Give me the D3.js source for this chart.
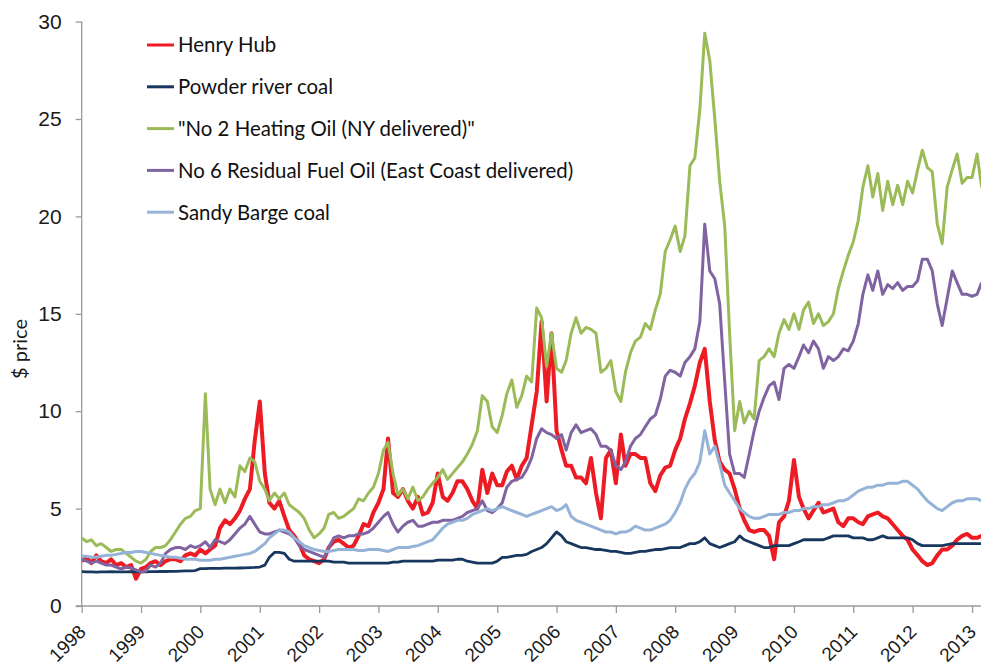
<!DOCTYPE html>
<html>
<head>
<meta charset="utf-8">
<script src="https://cdn.jsdelivr.net/npm/d3@7"></script>
<style>
  html, body { margin: 0; padding: 0; background: #fff; }
  svg { display: block; font-family: Lato, "Liberation Sans", sans-serif; }
  .axis path, .axis line { stroke: #9a9a9a; stroke-width: 1.3; }
  .axis text { fill: #1a1a1a; font-size: 21px; }
  .x.axis text { font-size: 19px; }
</style>
</head>
<body>
<div class="chart"></div>
<script>
// monthly prices, Jan 1998 .. Mar 2013
const henryHub = [
  2.3, 2.5, 2.2, 2.6, 2.3, 2.2, 2.4, 2.1, 2.2, 2.0, 2.1, 1.4,
  1.9, 2.0, 2.2, 2.3, 2.1, 2.3, 2.4, 2.4, 2.3, 2.6, 2.7, 2.6,
  2.9, 2.7, 2.9, 3.1, 4.0, 4.4, 4.2, 4.5, 4.9, 5.5, 6.0, 8.5,
  10.5, 6.8, 5.3, 5.0, 5.4, 4.6, 3.9, 3.6, 3.2, 2.6, 2.4, 2.3,
  2.2, 2.4, 3.0, 3.3, 3.4, 3.2, 3.0, 3.1, 3.6, 4.2, 4.1, 4.8,
  5.3, 6.0, 8.6, 5.8, 5.6, 6.0, 5.4, 5.0, 5.6, 4.7, 4.8, 5.3,
  6.8, 5.6, 5.4, 5.8, 6.4, 6.4, 6.0, 5.4, 5.0, 7.0, 5.8, 6.8,
  6.2, 6.2, 6.9, 7.2, 6.5, 7.2, 7.6, 9.3, 11.0, 14.6, 10.5, 14.0,
  9.0, 8.0, 7.2, 7.2, 6.6, 6.6, 6.3, 7.6, 5.8, 4.5, 7.6, 8.0,
  6.3, 8.8, 7.2, 7.8, 7.8, 7.6, 7.6, 6.3, 5.9, 6.7, 7.1, 7.2,
  8.0, 8.6, 9.6, 10.4, 11.3, 12.5, 13.2, 10.5, 8.5, 7.4, 7.0, 6.8,
  6.0, 5.0, 4.4, 3.9, 3.8, 3.9, 3.9, 3.6, 2.4, 4.3, 4.6, 5.4,
  7.5, 5.6, 5.0, 4.5, 4.9, 5.3, 4.8, 4.9, 5.0, 4.3, 4.1, 4.5,
  4.5, 4.3, 4.2, 4.6, 4.7, 4.8, 4.6, 4.5, 4.2, 3.9, 3.6, 3.4,
  2.9, 2.6, 2.3, 2.1, 2.2, 2.6, 2.9, 2.9, 3.1, 3.4, 3.6, 3.7,
  3.5, 3.5, 3.6
];

const powderRiver = [
  1.76, 1.75, 1.75, 1.74, 1.75, 1.75, 1.76, 1.75, 1.75, 1.75, 1.76, 1.75,
  1.75, 1.75, 1.76, 1.76, 1.77, 1.77, 1.78, 1.78, 1.79, 1.8, 1.8, 1.82,
  1.92, 1.92, 1.93, 1.93, 1.93, 1.94, 1.94, 1.94, 1.95, 1.96, 1.97, 1.98,
  2.0, 2.1, 2.5, 2.75, 2.75, 2.7, 2.4, 2.3, 2.3, 2.3, 2.3, 2.3,
  2.3, 2.3, 2.3, 2.25, 2.25, 2.25, 2.2, 2.2, 2.2, 2.2, 2.2, 2.2,
  2.2, 2.2, 2.2, 2.25, 2.25, 2.3, 2.3, 2.3, 2.3, 2.3, 2.3, 2.3,
  2.35, 2.35, 2.35, 2.35, 2.4, 2.4, 2.3, 2.25, 2.2, 2.2, 2.2, 2.2,
  2.3, 2.5, 2.5, 2.55, 2.6, 2.6, 2.65, 2.8, 2.9, 3.0, 3.2, 3.5,
  3.8, 3.6, 3.3, 3.2, 3.1, 3.0, 3.0, 2.95, 2.9, 2.9, 2.85, 2.8,
  2.8, 2.75, 2.7, 2.7, 2.75, 2.8, 2.8, 2.85, 2.9, 2.9, 2.95, 3.0,
  3.0, 3.0, 3.1, 3.2, 3.2, 3.3, 3.5, 3.2, 3.1, 3.0, 3.1, 3.2,
  3.3, 3.6, 3.4, 3.3, 3.2, 3.1, 3.0, 3.0, 3.1, 3.1, 3.1, 3.1,
  3.2, 3.3, 3.4, 3.4, 3.4, 3.4, 3.4, 3.5, 3.6, 3.6, 3.6, 3.6,
  3.5, 3.5, 3.5, 3.4, 3.4, 3.5, 3.6, 3.5, 3.5, 3.5, 3.5, 3.5,
  3.4, 3.2, 3.1, 3.1, 3.1, 3.1, 3.1, 3.15, 3.2, 3.2, 3.2, 3.2,
  3.2, 3.2, 3.2
];

const heatingOil = [
  3.5, 3.3, 3.4, 3.1, 3.2, 3.0, 2.8, 2.9, 2.9, 2.7, 2.5, 2.3,
  2.2, 2.4, 2.8, 3.0, 3.0, 3.1, 3.4, 3.8, 4.2, 4.5, 4.6, 4.9,
  5.0, 10.9, 6.0, 5.2, 6.0, 5.3, 6.0, 5.6, 7.2, 6.9, 7.6, 7.4,
  6.4, 6.0, 5.4, 5.8, 5.5, 5.8, 5.2, 5.0, 4.8, 4.5, 3.9, 3.5,
  3.7, 4.0, 4.7, 4.8, 4.5, 4.6, 4.8, 5.0, 5.5, 5.4, 5.8, 6.1,
  6.8, 8.0, 8.4, 6.8, 5.7, 6.0, 5.5, 6.1, 5.4, 5.6, 6.0, 6.3,
  6.6, 7.0, 6.5, 6.8, 7.1, 7.4, 7.8, 8.3, 9.0, 10.8, 10.5, 9.2,
  8.9, 9.8, 10.9, 11.6, 10.2, 10.8, 11.8, 11.5, 15.3, 14.8, 12.3, 14.0,
  12.2, 12.0, 12.6, 14.0, 14.8, 14.0, 14.3, 14.2, 14.0, 12.0, 12.2, 12.6,
  11.0, 10.5, 12.0, 13.0, 13.6, 13.8, 14.5, 14.2, 15.2, 16.0, 18.2, 18.8,
  19.5, 18.2, 19.0, 22.6, 23.0, 25.5, 29.4, 28.0, 25.0, 21.8, 19.5, 14.0,
  9.0, 10.5, 9.4, 10.0, 9.6, 12.6, 12.8, 13.2, 12.8, 14.0, 14.7, 14.2,
  15.0, 14.2, 15.2, 15.6, 14.5, 15.0, 14.4, 14.6, 15.0, 16.3, 17.2, 18.0,
  18.7, 19.8, 21.5, 22.6, 21.0, 22.2, 20.3, 21.8, 20.6, 21.6, 20.6, 21.8,
  21.2, 22.4, 23.4, 22.5, 22.3, 19.6, 18.6, 21.5, 22.4, 23.2, 21.7, 22.0,
  22.0, 23.2, 21.5
];

const residualOil = [
  2.4, 2.3, 2.2, 2.3, 2.2, 2.1, 2.1, 2.0, 1.9, 2.0, 1.95, 1.85,
  1.75, 1.8, 2.1, 2.0, 2.2, 2.7, 2.9, 3.0, 3.0, 2.9, 3.1, 3.0,
  3.1, 3.3, 3.0, 3.4, 3.3, 3.2, 3.4, 3.7, 4.0, 4.2, 4.6, 4.2,
  3.8, 3.7, 3.7, 3.8, 3.9, 3.8, 3.7, 3.5, 3.1, 2.9, 2.8, 2.7,
  2.6, 2.5, 3.0, 3.5, 3.6, 3.5, 3.6, 3.6, 3.7, 3.7, 3.8, 4.0,
  4.3, 4.6, 4.8, 4.2, 3.8, 4.1, 4.3, 4.4, 4.1, 4.1, 4.2, 4.3,
  4.3, 4.4, 4.4, 4.4, 4.5, 4.6, 4.8, 4.9, 5.0, 5.4, 4.9, 4.8,
  5.0, 5.3, 6.1, 6.4, 6.5, 6.6, 7.0, 7.6, 8.6, 9.1, 8.9, 8.8,
  8.6, 8.8, 8.0, 8.9, 9.3, 8.9, 9.0, 9.1, 8.8, 8.2, 8.2, 8.0,
  7.2, 7.0, 7.4, 8.2, 8.6, 8.8, 9.2, 9.6, 9.8, 10.6, 11.8, 12.1,
  12.0, 11.8, 12.5, 12.8, 13.2, 14.6, 19.6, 17.2, 16.8, 15.5, 11.5, 7.8,
  6.8, 6.8, 6.6, 7.8, 9.0, 10.0, 10.7, 11.3, 11.5, 10.6, 12.2, 12.4,
  12.2, 12.8, 13.4, 13.0, 13.6, 13.2, 12.2, 12.8, 12.6, 12.8, 13.2, 13.1,
  13.6, 14.5, 16.0, 17.0, 16.2, 17.2, 16.0, 16.5, 16.3, 16.6, 16.2, 16.4,
  16.4, 16.7, 17.8, 17.8, 17.2, 15.5, 14.4, 15.8, 17.2, 16.6, 16.0, 16.0,
  15.9, 16.0, 16.6
];

const sandyBarge = [
  2.55, 2.55, 2.5, 2.5, 2.55, 2.6, 2.6, 2.65, 2.7, 2.75, 2.75, 2.8,
  2.8, 2.75, 2.7, 2.65, 2.6, 2.55, 2.5, 2.5, 2.45, 2.4, 2.4, 2.4,
  2.35, 2.35, 2.35, 2.4, 2.4, 2.45, 2.5, 2.55, 2.6, 2.65, 2.7, 2.8,
  3.0, 3.2, 3.5, 3.7, 3.9, 3.9, 3.8, 3.5, 3.3, 3.1, 3.0, 2.9,
  2.85, 2.8, 2.8, 2.85, 2.9, 2.9, 2.9, 2.9, 2.85, 2.85, 2.9, 2.9,
  2.9, 2.85, 2.8, 2.9, 3.0, 3.0, 3.0, 3.05, 3.1, 3.2, 3.3, 3.4,
  3.7, 4.0, 4.2, 4.3, 4.4, 4.4, 4.5, 4.7, 4.8, 4.9, 5.0, 4.9,
  5.0, 5.1, 5.0, 4.9, 4.8, 4.7, 4.6, 4.7, 4.8, 4.9, 5.0, 5.1,
  4.9, 5.0, 5.2, 4.6, 4.4, 4.3, 4.2, 4.1, 4.0, 3.9, 3.8, 3.8,
  3.7, 3.8, 3.8, 3.9, 4.1, 4.0, 3.9, 3.9, 4.0, 4.1, 4.2, 4.4,
  4.8, 5.3, 6.0, 6.5, 6.8, 7.4, 9.0, 7.8, 8.2, 7.3, 6.2, 5.8,
  5.4, 5.0, 4.8, 4.6, 4.5, 4.5, 4.6, 4.7, 4.7, 4.7, 4.8, 4.8,
  4.9, 4.9, 5.0, 5.0, 5.1, 5.1, 5.2, 5.2, 5.3, 5.4, 5.4, 5.5,
  5.7, 5.9, 6.0, 6.1, 6.1, 6.2, 6.2, 6.3, 6.3, 6.3, 6.4, 6.4,
  6.2, 6.0, 5.7, 5.4, 5.2, 5.0, 4.9, 5.1, 5.3, 5.4, 5.4, 5.5,
  5.5, 5.5, 5.4
];

const seriesNames = [
  "Henry Hub",
  "Powder river coal",
  "\"No 2 Heating Oil (NY delivered)\"",
  "No 6 Residual Fuel Oil (East Coast delivered)",
  "Sandy Barge coal"
];
const yTicks = [0, 5, 10, 15, 20, 25, 30];
const yearTicks = d3.range(1998, 2014);

const months = d3.timeMonths(new Date(1998, 0, 1), new Date(2013, 2, 2));

const W = 981, H = 666;
const plotLeft = 81.7, plotRight = 981, plotTop = 21.6, plotBottom = 606;

const svg = d3.select(".chart").append("svg")
    .attr("width", W)
    .attr("height", H);

const x = d3.scaleTime()
    .domain([new Date(1998, 0, 1), new Date(2013, 1, 25)])
    .range([plotLeft, plotRight]);
const y = d3.scaleLinear().domain([0, 30]).range([plotBottom, plotTop]);

const series = [
  { name: seriesNames[0], values: henryHub,    color: "#ED1C24", width: 4 },
  { name: seriesNames[1], values: powderRiver, color: "#17375E", width: 2.8 },
  { name: seriesNames[2], values: heatingOil,  color: "#9BBB59", width: 3 },
  { name: seriesNames[3], values: residualOil, color: "#8064A2", width: 3 },
  { name: seriesNames[4], values: sandyBarge,  color: "#95B3D7", width: 3 }
];

svg.append("defs").append("clipPath").attr("id", "plot")
  .append("rect")
    .attr("x", plotLeft).attr("y", 0)
    .attr("width", plotRight - plotLeft).attr("height", plotBottom);

// y axis
const yAxis = svg.append("g")
    .attr("class", "y axis")
    .attr("transform", "translate(" + plotLeft + ",0)")
    .call(d3.axisLeft(y).tickValues(yTicks).tickSize(6).tickSizeOuter(0).tickPadding(14));
yAxis.select(".domain").attr("d", "M0," + plotTop + "V" + plotBottom);

// x axis
const xAxis = svg.append("g")
    .attr("class", "x axis")
    .attr("transform", "translate(0," + plotBottom + ")")
    .call(d3.axisBottom(x)
      .tickValues(yearTicks.map(yr => new Date(yr, 0, 1)))
      .tickFormat(d3.timeFormat("%Y"))
      .tickSize(7).tickSizeOuter(0));
xAxis.select(".domain").attr("d", "M" + (plotLeft - 6) + ",0H" + plotRight);
xAxis.selectAll("text")
    .style("text-anchor", "end")
    .attr("x", 0)
    .attr("y", 0)
    .attr("dy", ".35em")
    .attr("transform", "translate(0,22.3) rotate(-45)");

svg.append("text")
    .attr("transform", "translate(27,349) rotate(-90)")
    .attr("text-anchor", "middle")
    .style("font-size", "20px")
    .style("fill", "#1a1a1a")
    .text("$ price");

const line = d3.line()
    .x((d, i) => x(months[i]))
    .y(d => y(d));

svg.append("g").attr("clip-path", "url(#plot)")
  .selectAll("path")
  .data(series)
  .enter().append("path")
    .attr("fill", "none")
    .attr("stroke", d => d.color)
    .attr("stroke-width", d => d.width)
    .attr("stroke-linejoin", "round")
    .attr("d", d => line(d.values));

// legend
const legend = svg.selectAll(".legend")
    .data(series)
    .enter().append("g")
    .attr("class", "legend")
    .attr("transform", (d, i) => "translate(147," + (45 + i * 41.8) + ")");

legend.append("line")
    .attr("x1", 0).attr("x2", 27)
    .attr("stroke", d => d.color)
    .attr("stroke-width", 3);

legend.append("text")
    .attr("x", 31)
    .attr("dy", ".36em")
    .style("font-size", "20.4px")
    .style("fill", "#111")
    .text(d => d.name);
</script>
</body>
</html>
